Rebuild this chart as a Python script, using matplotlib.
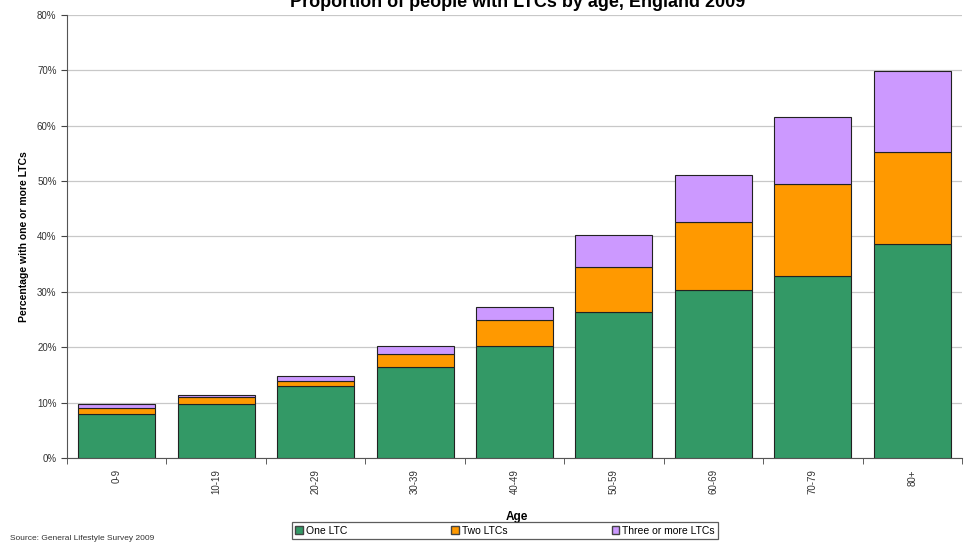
import matplotlib
matplotlib.use("Agg")
import matplotlib.pyplot as plt
from matplotlib.patches import Patch
from matplotlib.ticker import FixedLocator, PercentFormatter

plt.rcParams['font.family'] = ['Liberation Sans', 'DejaVu Sans']

ages = ['0-9', '10-19', '20-29', '30-39', '40-49', '50-59', '60-69', '70-79', '80+']
one_ltc = [7.9, 9.7, 13.0, 16.4, 20.2, 26.4, 30.3, 32.9, 38.6]
two_ltcs = [1.2, 1.3, 0.9, 2.3, 4.7, 8.1, 12.3, 16.6, 16.6]
three_plus = [0.6, 0.4, 0.9, 1.5, 2.4, 5.8, 8.5, 12.1, 14.7]

green = '#339966'
orange = '#ff9900'
purple = '#cc99ff'

fig = plt.figure(figsize=(9.7, 5.45), dpi=100)
ax = fig.add_axes([67/970, 1 - 458/545, 895/970, 443/545])

x = list(range(len(ages)))
bottom2 = one_ltc
bottom3 = [a + b for a, b in zip(one_ltc, two_ltcs)]
ax.bar(x, one_ltc, width=0.775, color=green, edgecolor='#222222', linewidth=0.8, zorder=3)
ax.bar(x, two_ltcs, width=0.775, bottom=bottom2, color=orange, edgecolor='#222222', linewidth=0.8, zorder=3)
ax.bar(x, three_plus, width=0.775, bottom=bottom3, color=purple, edgecolor='#222222', linewidth=0.8, zorder=3)

ax.set_xlim(-0.5, len(ages) - 0.5)
ax.set_ylim(0, 80)
ax.set_yticks(range(0, 81, 10))
ax.yaxis.set_major_formatter(PercentFormatter(decimals=0))
ax.grid(axis='y', color='#c8c8c8', linewidth=0.9, zorder=0)

ax.set_xticks(x)
ax.set_xticklabels(ages, rotation=90, fontsize=7, color='#333333')
ax.tick_params(axis='x', which='major', length=0, pad=8)
ax.xaxis.set_minor_locator(FixedLocator([i - 0.5 for i in range(len(ages) + 1)]))
ax.tick_params(axis='x', which='minor', length=4, direction='out', color='#444444')
ax.tick_params(axis='y', labelsize=7, length=4, color='#444444', labelcolor='#333333')

for s in ['top', 'right']:
    ax.spines[s].set_visible(False)
ax.spines['left'].set_color('#555555')
ax.spines['bottom'].set_color('#555555')

ax.set_ylabel('Percentage with one or more LTCs', fontsize=7.5, fontweight='bold', labelpad=6)
fig.text(517/970, 1 - 517/545, 'Age', fontsize=8.5, fontweight='bold', ha='center', va='center')

fig.text(518/970, 1 - 7/545, 'Proportion of people with LTCs by age, England 2009',
         fontsize=13, fontweight='bold', ha='center', va='baseline')

handles = [Patch(facecolor=green, edgecolor='#444444', label='One LTC'),
           Patch(facecolor=orange, edgecolor='#444444', label='Two LTCs'),
           Patch(facecolor=purple, edgecolor='#444444', label='Three or more LTCs')]
leg = fig.legend(handles=handles, loc='upper center', bbox_to_anchor=(505/970, 1 - 522/545),
                 ncol=3, fontsize=7.5, frameon=True, fancybox=False, handlelength=0.7,
                 handleheight=0.7, handletextpad=0.3, columnspacing=10, borderpad=0.35,
                 borderaxespad=0)
leg.get_frame().set_edgecolor('#333333')
leg.get_frame().set_linewidth(0.9)

fig.text(10/970, 1 - 538/545, 'Source: General Lifestyle Survey 2009', fontsize=6,
         color='#333333', va='center')

fig.savefig('out.png', dpi=100)
